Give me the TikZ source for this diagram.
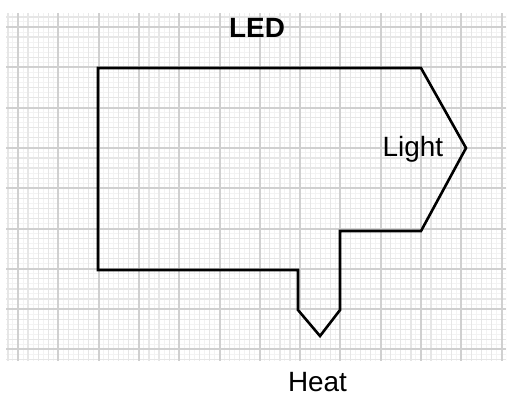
\documentclass[tikz,border=0pt]{standalone}
\usepackage{fontspec}
\setmainfont{Liberation Sans}
\definecolor{finegrid}{HTML}{F3F3F3}
\definecolor{minorgrid}{HTML}{E6E6E6}
\definecolor{majorgrid}{HTML}{D0D0D0}
\tikzset{
  fineline/.style={draw=finegrid, line width=1bp},
  minorline/.style={draw=minorgrid, line width=1.2bp},
  majorline/.style={draw=majorgrid, line width=2bp},
  outline/.style={draw=black, line width=2.6bp, line join=miter},
  label/.style={font=\fontsize{28}{30}\selectfont, anchor=base, inner sep=0pt},
}
\begin{document}
\begin{tikzpicture}[x=1bp,y=-1bp]
\useasboundingbox (0,0) rectangle (507,397);
\fill[white] (0,0) rectangle (507,397);
% grid
\begin{scope}
\clip (6,13) rectangle (506,361);
\foreach \i in {-8,...,110} {
  \pgfmathsetmacro\xx{18+\i*40.3/8}
  \pgfmathsetmacro\yy{27+\i*40.3/8}
  \draw[fineline] (\xx,13) -- (\xx,361);
  \draw[fineline] (6,\yy) -- (506,\yy);
}
\foreach \i in {-4,...,55} {
  \pgfmathsetmacro\xx{18+\i*40.3/4}
  \pgfmathsetmacro\yy{27+\i*40.3/4}
  \draw[minorline] (\xx,13) -- (\xx,361);
  \draw[minorline] (6,\yy) -- (506,\yy);
}
\foreach \i in {-1,...,13} {
  \pgfmathsetmacro\xx{18+\i*40.3}
  \pgfmathsetmacro\yy{27+\i*40.3}
  \draw[majorline] (\xx,13) -- (\xx,361);
  \draw[majorline] (6,\yy) -- (506,\yy);
}
\end{scope}
% LED outline
\draw[outline] (98,68) -- (421,68) -- (466,148) -- (421,231) -- (340,231)
  -- (340,310) -- (320,336) -- (298,310) -- (298,270) -- (98,270) -- cycle;
% labels
\node[label, font=\fontsize{28}{30}\selectfont\bfseries] (led) at (257,37.3) {LED};
\node[label] (light) at (412.8,156.7) {Light};
\node[label] (heat) at (317.5,391) {Heat};
\end{tikzpicture}
\end{document}
